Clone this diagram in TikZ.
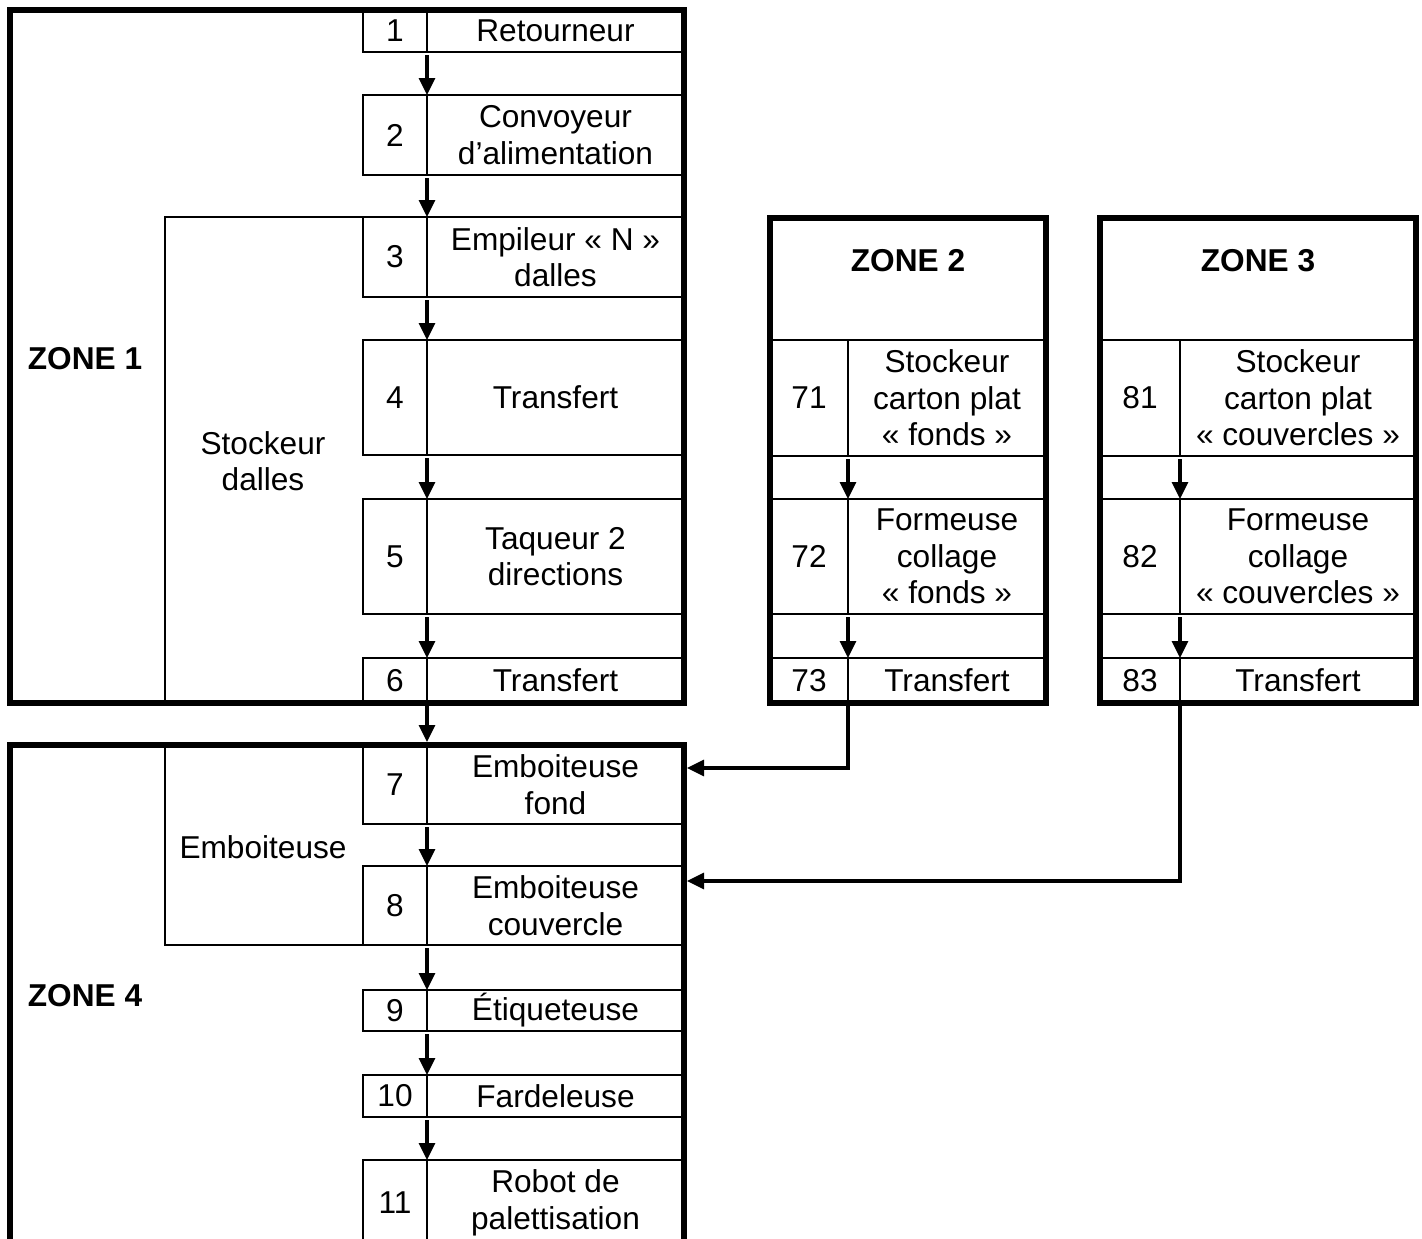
\documentclass[tikz,border=0pt]{standalone}
\usepackage{fontspec}
\setmainfont{Liberation Sans}
\usetikzlibrary{arrows.meta}
\newlength\pxu
\setlength\pxu{0.02cm}
\tikzset{
  cell/.style={draw,line width=1.1pt,inner sep=0pt,outer sep=0pt,align=center,anchor=north west},
  zonebox/.style={draw,line width=3.3pt,inner sep=0pt,outer sep=0pt,anchor=north west},
  zonelabel/.style={font=\fontsize{18}{20.8}\selectfont\bfseries},
  edge/.style={line width=1.1pt},
  flow/.style={line width=1.8pt,-{Triangle[length=0.34cm,width=0.32cm]}},
}
\begin{document}
\begin{tikzpicture}[x=0.02cm,y=-0.02cm,font=\fontsize{18}{20.8}\selectfont]
  \useasboundingbox (0,0) rectangle (1422,1238);
  \clip (0,0) rectangle (1422,1238);
  \foreach \n/\top/\h/\txt in {1/10/42/Retourneur,2/95/80/{Convoyeur\\d’alimentation},
      3/217/80/{Empileur «~N~»\\dalles},4/340/115/Transfert,5/499/115/{Taqueur 2\\directions},
      6/658/45/Transfert,7/745/79/{Emboiteuse\\fond},8/866/79/{Emboiteuse\\couvercle},
      9/990/41/Étiqueteuse,10/1075/42/Fardeleuse,11/1160/86/{Robot de\\palettisation}} {
    \node[cell,minimum width=64\pxu,minimum height=\h\pxu] (num\n) at (363,\top) {\n};
    \node[cell,minimum width=257\pxu,minimum height=\h\pxu] (lab\n) at (num\n.north east) {\txt};
  }
  \foreach \z/\k/\x/\wn/\wl/\word in {2/7/770/78/198/fonds,3/8/1100/80/236/couvercles} {
    \foreach \r/\top/\h/\txt in {1/340/116/{Stockeur\\carton plat\\«~\word~»},
        2/499/115/{Formeuse\\collage\\«~\word~»},3/658/45/Transfert} {
      \node[cell,minimum width=\wn\pxu,minimum height=\h\pxu] (num\k\r) at (\x,\top) {\k\r};
      \node[cell,minimum width=\wl\pxu,minimum height=\h\pxu] (lab\k\r) at (num\k\r.north east) {\txt};
    }
    \pgfmathsetmacro{\wz}{\wn+\wl}
    \node[zonebox,minimum width=\wz\pxu,minimum height=485\pxu] (zone\z) at (\x,218) {};
    \node[zonelabel] (head\z) at ([yshift=-43\pxu]zone\z.north) {ZONE \z};
  }
  \node[zonebox,minimum width=674\pxu,minimum height=693\pxu] (zone1) at (10,10) {};
  \node[zonebox,minimum width=674\pxu,minimum height=520\pxu] (zone4) at (10,745) {};
  \node[zonelabel] (head1) at (85,359) {ZONE 1};
  \node[zonelabel] (head4) at (85,996) {ZONE 4};
  \node[align=center] (stock) at (263,461) {Stockeur\\dalles};
  \node (emboit) at (263,847) {Emboiteuse};
  \draw[edge] (num3.north west) -| (165,703);
  \draw[edge] (num8.south west) -| (165,745);
  \foreach \a/\b in {1/2,2/3,3/4,4/5,5/6,7/8,8/9,9/10,10/11,71/72,72/73,81/82,82/83}
    \draw[flow,shorten <=0.06cm] (num\a.south east) -- (num\b.north east);
  \draw[flow,shorten <=0.06cm,shorten >=0.06cm] (num6.south east) -- (num7.north east);
  \coordinate (in7) at (687,768);
  \coordinate (in8) at (687,881);
  \draw[flow,shorten <=0.06cm] (num73.south east) |- (in7);
  \draw[flow,shorten <=0.06cm] (num83.south east) |- (in8);
\end{tikzpicture}
\end{document}
